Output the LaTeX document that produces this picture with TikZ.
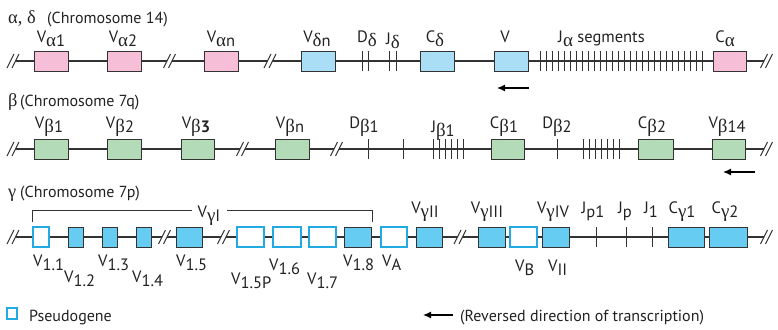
\documentclass[tikz,border=0pt]{standalone}
\usepackage{fontspec}
\setmainfont{PT Sans}
\newfontfamily\grk{Liberation Serif}[Scale=1.15]
\usetikzlibrary{arrows.meta}
\definecolor{pinkf}{HTML}{F6BFD7}
\definecolor{bluef}{HTML}{A9DEF6}
\definecolor{greenf}{HTML}{B3DBB7}
\definecolor{cyanf}{HTML}{66CCF2}
\definecolor{pseudo}{HTML}{22AAE2}
\definecolor{linec}{HTML}{333333}
\definecolor{txt}{HTML}{222222}
\newcommand\sbx[2]{#1\raisebox{-4pt}{#2}}
\newcommand\gk[1]{{\grk #1}}
\tikzset{
  chrom/.style={line width=1.1pt, draw=linec},
  seg/.style={line width=1pt, draw=linec},
  gene/.style={draw=linec, line width=0.9pt, minimum height=20pt, inner sep=0pt},
  pinkbox/.style={gene, fill=pinkf, minimum width=34pt},
  bluebox/.style={gene, fill=bluef, minimum width=34pt},
  greenbox/.style={gene, fill=greenf, minimum width=34pt},
  cyanbox/.style={gene, fill=cyanf},
  pseudobox/.style={gene, draw=pseudo, line width=1.2pt, fill=white},
  lbl/.style={anchor=base, inner sep=0pt, text=txt, font=\fontsize{16.5}{18}\selectfont},
  lblw/.style={lbl, anchor=base west},
  head/.style={anchor=base west, inner sep=0pt, text=txt, font=\fontsize{16}{18}\selectfont},
  revarrow/.style={line width=1.3pt, draw=black, -{Latex[length=8pt,width=7pt]}},
  brk/.pic={
    \fill[white] (-6,7) -- (1,-7) -- (6,-7) -- (-1,7) -- cycle;
    \draw[seg] (-6,7) -- (1,-7) (-1,7) -- (6,-7);
  }
}
\begin{document}
\begin{tikzpicture}[x=1pt,y=-1pt]
\useasboundingbox (0,0) rectangle (778,329);

% ---------------- Row 1: alpha, delta ----------------
\node[head] (h1a) at (8,24) {\gk{α, δ}};
\node[head] (h1b) at (47,24) {(Chromosome 14)};
\coordinate (r1s) at (13,61);
\coordinate (r1e) at (766.5,61);
\draw[chrom] (r1s) -- (r1e);
\foreach \x in {540,546,...,702} \draw[seg] (\x,51) -- (\x,71);
\foreach \x in {362,368,389,396} \draw[seg] (\x,51) -- (\x,71);
\node[pinkbox] (va1) at (51,61) {};
\node[pinkbox] (va2) at (124,61) {};
\node[pinkbox] (van) at (221,61) {};
\node[bluebox] (vdn) at (318,61) {};
\node[bluebox] (cd) at (437,61) {};
\node[bluebox] (vrev) at (511,61) {};
\node[pinkbox, minimum width=33pt] (ca) at (729.5,61) {};
\pic at (r1s) {brk};
\pic at (169.5,61) {brk};
\pic at (270,61) {brk};
\pic at (r1e) {brk};
\node[lbl] (lva1) at (51,42) {\sbx{V}{\gk{α}1}};
\node[lbl] (lva2) at (123,42) {\sbx{V}{\gk{α}2}};
\node[lbl] (lvan) at (221,42) {\sbx{V}{\gk{α}n}};
\node[lbl] (lvdn) at (317,42) {\sbx{V}{\gk{δ}n}};
\node[lbl] (ldd) at (367,42) {\sbx{D}{\gk{δ}}};
\node[lbl] (ljd) at (393,45) {\sbx{J}{\gk{δ}}};
\node[lbl] (lcd) at (435,42) {\sbx{C}{\gk{δ}}};
\node[lbl] (lv) at (505,42) {V};
\node[lblw] (lja) at (558,42) {\sbx{J}{\gk{α}} segments};
\node[lbl] (lca) at (725,42) {\sbx{C}{\gk{α}}};
\coordinate (a1s) at (529,88);
\coordinate (a1e) at (497,88);
\draw[revarrow] (a1s) -- (a1e);

% ---------------- Row 2: beta ----------------
\node[head] (h2a) at (8,106) {\gk{β}};
\node[head] (h2b) at (20,106) {(Chromosome 7q)};
\coordinate (r2s) at (13,149);
\coordinate (r2e) at (766.5,149);
\draw[chrom] (r2s) -- (r2e);
\foreach \x in {368,403,433,439,...,463,557,583,589,...,619} \draw[seg] (\x,139) -- (\x,159);
\node[greenbox] (vb1) at (51,149) {};
\node[greenbox] (vb2) at (124,149) {};
\node[greenbox, minimum width=33pt] (vb3) at (197.5,149) {};
\node[greenbox] (vbn) at (292,149) {};
\node[greenbox, minimum width=33pt] (cb1) at (507.5,149) {};
\node[greenbox, minimum width=35pt] (cb2) at (655.5,149) {};
\node[greenbox, minimum width=33pt] (vb14) at (728.5,149) {};
\pic at (r2s) {brk};
\pic at (242.5,149) {brk};
\pic at (336.5,149) {brk};
\pic at (r2e) {brk};
\node[lbl] (lvb1) at (49,128) {\sbx{V}{\gk{β}1}};
\node[lbl] (lvb2) at (120,128) {\sbx{V}{\gk{β}2}};
\node[lbl] (lvb3) at (196,128) {\sbx{V}{\gk{β}\textbf{3}}};
\node[lbl] (lvbn) at (290,128) {\sbx{V}{\gk{β}n}};
\node[lbl] (ldb1) at (364,128) {\sbx{D}{\gk{β}1}};
\node[lbl] (ljb1) at (443,132) {\sbx{J}{\gk{β}1}};
\node[lbl] (lcb1) at (504,128) {\sbx{C}{\gk{β}1}};
\node[lbl] (ldb2) at (557,128) {\sbx{D}{\gk{β}2}};
\node[lbl] (lcb2) at (652,128) {\sbx{C}{\gk{β}2}};
\node[lbl] (lvb14) at (727,128) {\sbx{V}{\gk{β}14}};
\coordinate (a2s) at (755,172);
\coordinate (a2e) at (723,172);
\draw[revarrow] (a2s) -- (a2e);

% ---------------- Row 3: gamma ----------------
\node[head] (h3a) at (8,197) {\gk{γ}};
\node[head] (h3b) at (20,197) {(Chromosome 7p)};
\coordinate (r3s) at (13,237);
\coordinate (r3e) at (766.5,237);
\draw[chrom] (r3s) -- (r3e);
\foreach \x in {596,626,652} \draw[seg] (\x,227) -- (\x,247);
\node[pseudobox, minimum width=16pt] (v11) at (41,237) {};
\node[cyanbox, minimum width=15pt] (v12) at (75.5,237) {};
\node[cyanbox, minimum width=15pt] (v13) at (109.5,237) {};
\node[cyanbox, minimum width=15pt] (v14) at (143.5,237) {};
\node[cyanbox, minimum width=26pt] (v15) at (189,237) {};
\node[pseudobox, minimum width=27pt] (v15p) at (250.5,237) {};
\node[pseudobox, minimum width=28pt] (v16) at (287,237) {};
\node[pseudobox, minimum width=27pt] (v17) at (322.5,237) {};
\node[cyanbox, minimum width=27pt] (v18) at (357.5,237) {};
\node[pseudobox, minimum width=26pt] (vA) at (394,237) {};
\node[cyanbox, minimum width=26pt] (vg2) at (429,237) {};
\node[cyanbox, minimum width=27pt] (vg3) at (491.5,237) {};
\node[pseudobox, minimum width=27pt] (vB) at (523.5,237) {};
\node[cyanbox, minimum width=27pt] (vg4) at (555.5,237) {};
\node[cyanbox, minimum width=36pt] (cg1) at (686,237) {};
\node[cyanbox, minimum width=38pt] (cg2) at (728,237) {};
\pic at (r3s) {brk};
\pic at (164.5,237) {brk};
\pic at (223.5,237) {brk};
\pic at (460,237) {brk};
\pic at (r3e) {brk};
% bracket V gamma I
\node[lbl] (lvg1) at (209,217) {\sbx{V}{\gk{γ}I}};
\coordinate (bl) at (32,222);
\coordinate (blt) at (32,210);
\coordinate (bgl) at (192,210);
\coordinate (br) at (372,222);
\coordinate (brt) at (372,210);
\coordinate (bgr) at (227,210);
\draw[seg, line width=0.9pt] (bl) -- (blt) -- (bgl);
\draw[seg, line width=0.9pt] (br) -- (brt) -- (bgr);
\node[lbl] (lvg2) at (425,213) {\sbx{V}{\gk{γ}II}};
\node[lbl] (lvg3) at (487,213) {\sbx{V}{\gk{γ}III}};
\node[lbl] (lvg4) at (553,213) {\sbx{V}{\gk{γ}IV}};
\node[lbl] (ljp1) at (593,213) {\sbx{J}{p1}};
\node[lbl] (ljp) at (625,213) {\sbx{J}{p}};
\node[lbl] (lj1) at (651,213) {\sbx{J}{1}};
\node[lbl] (lcg1) at (682,213) {\sbx{C}{\gk{γ}1}};
\node[lbl] (lcg2) at (725,213) {\sbx{C}{\gk{γ}2}};
\node[lblw] (l11) at (33,266) {\sbx{V}{1.1}};
\node[lblw] (l12) at (64,282) {\sbx{V}{1.2}};
\node[lblw] (l13) at (98,266) {\sbx{V}{1.3}};
\node[lblw] (l14) at (132,282) {\sbx{V}{1.4}};
\node[lblw] (l15) at (176,266) {\sbx{V}{1.5}};
\node[lblw] (l15p) at (231,284) {\sbx{V}{1.5P}};
\node[lblw] (l16) at (269,270) {\sbx{V}{1.6}};
\node[lblw] (l17) at (307,284) {\sbx{V}{1.7}};
\node[lblw] (l18) at (343,266) {\sbx{V}{1.8}};
\node[lblw] (lA) at (382,266) {\sbx{V}{A}};
\node[lblw] (lB) at (515,271) {\sbx{V}{B}};
\node[lblw] (lII) at (548,271) {\sbx{V}{II}};

% ---------------- Legend ----------------
\node[pseudobox, minimum width=10pt, minimum height=11pt] (legbox) at (12,313.5) {};
\node[head] (legt) at (29,321) {Pseudogene};
\coordinate (a3s) at (453,315);
\coordinate (a3e) at (423,315);
\draw[revarrow] (a3s) -- (a3e);
\node[head] (legr) at (460,321) {(Reversed direction of transcription)};
\end{tikzpicture}
\end{document}
